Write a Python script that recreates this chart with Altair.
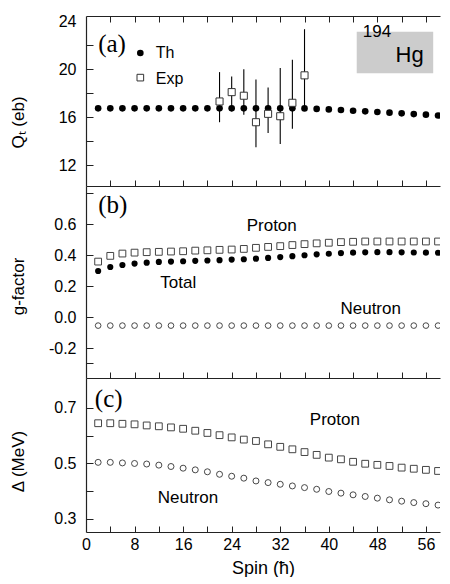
import altair as alt
import pandas as pd

# ---------------- data ----------------
spin = [2, 4, 6, 8, 10, 12, 14, 16, 18, 20, 22, 24, 26, 28, 30,
        32, 34, 36, 38, 40, 42, 44, 46, 48, 50, 52, 54, 56, 58]

# (a) transition quadrupole moment Qt (eb)
qt_th = [16.75, 16.75, 16.75, 16.75, 16.75, 16.75, 16.75, 16.75, 16.75, 16.75,
         16.75, 16.75, 16.75, 16.75, 16.75, 16.75, 16.75, 16.74, 16.70, 16.66,
         16.61, 16.55, 16.50, 16.44, 16.39, 16.33, 16.27, 16.22, 16.15]
exp_spin = [22, 24, 26, 28, 30, 32, 34, 36]
exp_qt = [17.32, 18.10, 17.80, 15.59, 16.29, 16.09, 17.21, 19.50]
exp_lo = [15.59, 16.50, 16.21, 13.50, 14.70, 13.78, 15.04, 16.80]
exp_hi = [19.77, 19.41, 20.00, 19.16, 18.49, 20.11, 20.81, 23.35]

# (b) g-factor
g_proton = [0.359, 0.396, 0.411, 0.417, 0.420, 0.422, 0.424, 0.426, 0.430, 0.432,
            0.435, 0.437, 0.441, 0.448, 0.454, 0.459, 0.466, 0.472, 0.477, 0.481,
            0.485, 0.487, 0.489, 0.489, 0.489, 0.489, 0.489, 0.489, 0.489]
g_total = [0.298, 0.324, 0.337, 0.346, 0.352, 0.357, 0.359, 0.361, 0.364, 0.366,
           0.368, 0.372, 0.374, 0.378, 0.383, 0.388, 0.394, 0.400, 0.406, 0.410,
           0.414, 0.417, 0.419, 0.420, 0.420, 0.419, 0.418, 0.417, 0.416]
g_neutron = [-0.055, -0.055, -0.055, -0.055, -0.055, -0.055, -0.055, -0.055, -0.055, -0.055,
             -0.055, -0.055, -0.055, -0.055, -0.055, -0.055, -0.055, -0.055, -0.055, -0.055,
             -0.055, -0.055, -0.055, -0.055, -0.055, -0.055, -0.055, -0.055, -0.055]

# (c) pairing gap (MeV)
gap_proton = [0.645, 0.645, 0.643, 0.641, 0.637, 0.634, 0.630, 0.625, 0.618, 0.610,
              0.602, 0.594, 0.586, 0.581, 0.569, 0.560, 0.551, 0.541, 0.531, 0.521,
              0.515, 0.506, 0.499, 0.495, 0.491, 0.485, 0.481, 0.477, 0.473]
gap_neutron = [0.504, 0.504, 0.502, 0.500, 0.498, 0.494, 0.489, 0.483, 0.477, 0.470,
               0.461, 0.454, 0.447, 0.437, 0.431, 0.425, 0.419, 0.413, 0.407, 0.399,
               0.393, 0.387, 0.381, 0.375, 0.369, 0.364, 0.359, 0.355, 0.350]

# axis ticks / labels
x_labels = [0, 8, 16, 24, 32, 40, 48, 56]
x_ticks = [4, 8, 12, 16, 20, 24, 28, 32, 36, 40, 44, 48, 52, 56]
a_labels = [12, 16, 20, 24]
a_ticks = [12, 14, 16, 18, 20, 22]
b_labels = [-0.2, 0.0, 0.2, 0.4, 0.6]
b_ticks = [-0.3, -0.2, 0.0, 0.2, 0.4, 0.6, 0.8]
c_labels = [0.3, 0.5, 0.7]
c_ticks = [0.3, 0.4, 0.5, 0.6, 0.7]

# annotations (data coordinates)
leg_text = ["Th", "Exp"]
leg_x = [8.95, 8.95]
leg_y = [21.36, 19.31]
leg_tx = [11.5, 11.5]
leg_ty = [21.36, 19.2]
box_x = [44.6]; box_x2 = [57.2]; box_y = [23.13]; box_y2 = [19.68]
b_text = ["Proton", "Total", "Neutron"]
b_tx = [30.6, 15.2, 46.9]
b_ty = [0.589, 0.221, 0.055]
c_text = ["Proton", "Neutron"]
c_tx = [41.0, 16.8]
c_ty = [0.658, 0.375]

W = 354
HA, HB, HC = 170, 192, 154
FONT = "Liberation Sans"
SERIF = "Liberation Serif"

xs = alt.Scale(domain=[0, 58.32], nice=False, zero=False)
ya = alt.Scale(domain=[10.27, 24.45], nice=False, zero=False)
yb = alt.Scale(domain=[-0.394, 0.848], nice=False, zero=False)
yc = alt.Scale(domain=[0.253, 0.808], nice=False, zero=False)

df_a = pd.DataFrame({"spin": spin, "v": qt_th})
df_exp = pd.DataFrame({"spin": exp_spin, "v": exp_qt, "lo": exp_lo, "hi": exp_hi})
df_b = pd.DataFrame({"spin": spin, "p": g_proton, "t": g_total, "n": g_neutron})
df_c = pd.DataFrame({"spin": spin, "p": gap_proton, "n": gap_neutron})

NOX = alt.X("x:Q", scale=xs, axis=None)


def frame(df, ycol, yscale, H, ylabels, yticks, ytitle, title_y, last, top_line, fmt_expr):
    """Main axes layer plus an invisible layer carrying inward ticks."""
    if last:
        xax = alt.Axis(orient="bottom", values=x_labels, ticks=False, labelPadding=4,
                       labelFlush=False, labelFontSize=16, title="Spin (ħ)",
                       titleFontSize=18, titlePadding=7, domain=True)
    else:
        xax = alt.Axis(orient="bottom", labels=False, ticks=False, title=None, domain=True)
    yax = alt.Axis(orient="left", values=ylabels, ticks=False, labelPadding=10,
                   labelExpr=fmt_expr, labelFontSize=16, title=ytitle,
                   titleX=-68, titleY=title_y, titleBaseline="middle", titleFontSize=17,
                   domain=True)
    base = alt.Chart(df)
    l1 = base.mark_point(opacity=0).encode(
        x=alt.X("spin:Q", scale=xs, axis=xax),
        y=alt.Y(f"{ycol}:Q", scale=yscale, axis=yax))
    l2 = base.mark_point(opacity=0).encode(
        x=alt.X("spin:Q", scale=xs,
                axis=alt.Axis(orient="top", offset=-H, values=x_ticks, tickSize=6,
                              labels=False, domain=False, title=None)),
        y=alt.Y(f"{ycol}:Q", scale=yscale,
                axis=alt.Axis(orient="right", offset=-W, values=yticks, tickSize=7,
                              labels=False, domain=False, title=None)))
    out = [l1, l2]
    if top_line:
        l3 = base.mark_point(opacity=0).encode(
            x=alt.X("spin:Q", scale=xs,
                    axis=alt.Axis(orient="bottom", offset=-H, values=x_ticks, tickSize=6,
                                  labels=False, domain=True, title=None)),
            y=alt.Y(f"{ycol}:Q", scale=yscale, axis=None))
        out.append(l3)
    return out


def panel_label(txt, x, y, yscale):
    d = pd.DataFrame({"x": [x], "y": [y], "t": [txt]})
    return alt.Chart(d).mark_text(font=SERIF, fontSize=25, align="left",
                                  baseline="middle", color="black").encode(
        x=NOX, y=alt.Y("y:Q", scale=yscale, axis=None), text="t:N")


# ---------------- panel (a) ----------------
fmt_int = "format(datum.value, 'd')"
layers_a = frame(df_a, "v", ya, HA, a_labels, a_ticks, "Qₜ (eb)", 106, False, True, fmt_int)

box = alt.Chart(pd.DataFrame({"x": box_x, "x2": box_x2, "y": box_y, "y2": box_y2})).mark_rect(
    color="#cccccc").encode(x=NOX, x2="x2:Q", y=alt.Y("y:Q", scale=ya, axis=None), y2="y2:Q")
sup = alt.Chart(pd.DataFrame({"x": [45.6], "y": [22.70], "t": ["194"]})).mark_text(
    font=FONT, fontSize=17, align="left", baseline="alphabetic", color="black").encode(
    x=NOX, y=alt.Y("y:Q", scale=ya, axis=None), text="t:N")
hg = alt.Chart(pd.DataFrame({"x": [51.0], "y": [20.59], "t": ["Hg"]})).mark_text(
    font=FONT, fontSize=22, align="left", baseline="alphabetic", color="black").encode(
    x=NOX, y=alt.Y("y:Q", scale=ya, axis=None), text="t:N")

th = alt.Chart(df_a).mark_circle(size=44, color="black", opacity=1, clip=True).encode(
    x=alt.X("spin:Q", scale=xs, axis=None), y=alt.Y("v:Q", scale=ya, axis=None))
err = alt.Chart(df_exp).mark_rule(color="black", strokeWidth=1.1).encode(
    x=alt.X("spin:Q", scale=xs, axis=None), y=alt.Y("lo:Q", scale=ya, axis=None), y2="hi:Q")
exp = alt.Chart(df_exp).mark_square(size=50, fill="white", stroke="#333333",
                                    strokeWidth=1, opacity=1).encode(
    x=alt.X("spin:Q", scale=xs, axis=None), y=alt.Y("v:Q", scale=ya, axis=None))

df_leg = pd.DataFrame({"x": leg_x, "y": leg_y, "tx": leg_tx, "ty": leg_ty, "t": leg_text})
leg_dot = alt.Chart(df_leg.iloc[[0]]).mark_circle(size=44, color="black", opacity=1).encode(
    x=NOX, y=alt.Y("y:Q", scale=ya, axis=None))
leg_sq = alt.Chart(df_leg.iloc[[1]]).mark_square(size=44, fill="white", stroke="#333333",
                                                 strokeWidth=1, opacity=1).encode(
    x=NOX, y=alt.Y("y:Q", scale=ya, axis=None))
leg_txt = alt.Chart(df_leg).mark_text(font=FONT, fontSize=16, align="left",
                                      baseline="middle", color="black").encode(
    x=alt.X("tx:Q", scale=xs, axis=None), y=alt.Y("ty:Q", scale=ya, axis=None), text="t:N")

chart_a = alt.layer(*layers_a, box, sup, hg, th, err, exp, leg_dot, leg_sq, leg_txt,
                    panel_label("(a)", 2.0, 22.09, ya)).resolve_axis(
    x="independent", y="independent").properties(width=W, height=HA)

# ---------------- panel (b) ----------------
fmt_b = "replace(format(datum.value, '.1f'), '\u2212', '-')"
layers_b = frame(df_b, "p", yb, HB, b_labels, b_ticks, "g-factor", 100, False, False, fmt_b)
b_p = alt.Chart(df_b).mark_square(size=46, fill="white", stroke="#444444",
                                  strokeWidth=1, opacity=1, clip=True).encode(
    x=alt.X("spin:Q", scale=xs, axis=None), y=alt.Y("p:Q", scale=yb, axis=None))
b_t = alt.Chart(df_b).mark_circle(size=38, color="black", opacity=1, clip=True).encode(
    x=alt.X("spin:Q", scale=xs, axis=None), y=alt.Y("t:Q", scale=yb, axis=None))
b_n = alt.Chart(df_b).mark_point(shape="circle", size=32, filled=False, color="#333333",
                                 strokeWidth=0.9, opacity=1, clip=True).encode(
    x=alt.X("spin:Q", scale=xs, axis=None), y=alt.Y("n:Q", scale=yb, axis=None))
b_ann = alt.Chart(pd.DataFrame({"x": b_tx, "y": b_ty, "t": b_text})).mark_text(
    font=FONT, fontSize=17, align="center", baseline="middle", color="black").encode(
    x=NOX, y=alt.Y("y:Q", scale=yb, axis=None), text="t:N")

chart_b = alt.layer(*layers_b, b_p, b_t, b_n, b_ann,
                    panel_label("(b)", 2.0, 0.725, yb)).resolve_axis(
    x="independent", y="independent").properties(width=W, height=HB)

# ---------------- panel (c) ----------------
fmt_c = "format(datum.value, '.1f')"
layers_c = frame(df_c, "p", yc, HC, c_labels, c_ticks, "Δ (MeV)", 83, True, False, fmt_c)
c_p = alt.Chart(df_c).mark_square(size=46, fill="white", stroke="#444444",
                                  strokeWidth=1, opacity=1, clip=True).encode(
    x=alt.X("spin:Q", scale=xs, axis=None), y=alt.Y("p:Q", scale=yc, axis=None))
c_n = alt.Chart(df_c).mark_point(shape="circle", size=36, filled=False, color="#333333",
                                 strokeWidth=0.9, opacity=1, clip=True).encode(
    x=alt.X("spin:Q", scale=xs, axis=None), y=alt.Y("n:Q", scale=yc, axis=None))
c_ann = alt.Chart(pd.DataFrame({"x": c_tx, "y": c_ty, "t": c_text})).mark_text(
    font=FONT, fontSize=17, align="center", baseline="middle", color="black").encode(
    x=NOX, y=alt.Y("y:Q", scale=yc, axis=None), text="t:N")

chart_c = alt.layer(*layers_c, c_p, c_n, c_ann,
                    panel_label("(c)", 1.45, 0.733, yc)).resolve_axis(
    x="independent", y="independent").properties(width=W, height=HC)

chart = alt.vconcat(chart_a, chart_b, chart_c, spacing=0, bounds="flush").properties(
    padding={"left": 1, "top": 5, "right": 0, "bottom": 0}
).configure_view(stroke=None).configure_axis(
    labelFont=FONT, titleFont=FONT, labelColor="black", titleColor="black",
    domainColor="#222222", tickColor="#222222", domainWidth=1.2, tickWidth=1,
    grid=False, titleFontWeight="normal", labelOverlap=False
)

chart.save("out.html", embed_options={"renderer": "svg", "actions": False})
